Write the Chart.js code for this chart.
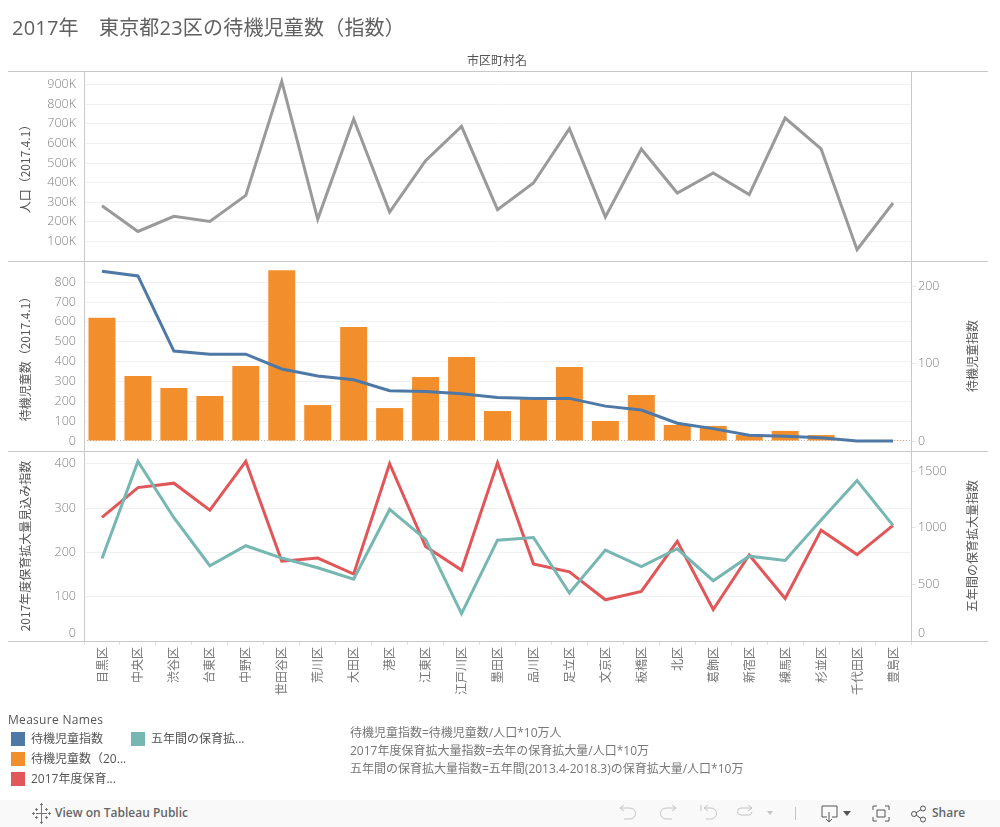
<!DOCTYPE html>
<html lang="ja">
<head>
<meta charset="utf-8">
<title>2017年 東京都23区の待機児童数（指数）</title>
<script src="https://cdn.jsdelivr.net/npm/chart.js@4/dist/chart.umd.min.js"></script>
<style>
html,body{margin:0;padding:0;background:#fff;width:1000px;height:827px;overflow:hidden}
body{font-family:"Open Sans","Noto Sans CJK JP",sans-serif;position:relative}
canvas{position:absolute;left:0;top:0}
.t{position:absolute;white-space:nowrap;line-height:16px}
#title{left:12px;top:14px;font-size:20px;line-height:28px;color:#606060;font-weight:400;letter-spacing:.2px}
#head{left:467px;top:53px;font-size:12px;color:#555}
.lg{font-size:12px;color:#555}
.sw{position:absolute;width:14px;height:14px}
.note{font-size:12px;color:#777;left:350px}
#foot{position:absolute;left:0;top:800px;width:1000px;height:27px;background:#f9f9f9}
#foot svg{position:absolute;left:0;top:0}
</style>
</head>
<body>
<canvas id="c" width="1000" height="827"></canvas>
<div class="t" id="title">2017年　東京都23区の待機児童数（指数）</div>
<div class="t" id="head">市区町村名</div>
<div class="t lg" style="left:8px;top:712px;letter-spacing:.3px">Measure Names</div>
<div class="sw" style="left:11px;top:732px;background:#4e79a7"></div>
<div class="t lg" style="left:31px;top:731px">待機児童指数</div>
<div class="sw" style="left:11px;top:752px;background:#f28e2b"></div>
<div class="t lg" style="left:31px;top:751px">待機児童数（20...</div>
<div class="sw" style="left:11px;top:772px;background:#e15759"></div>
<div class="t lg" style="left:31px;top:771px">2017年度保育...</div>
<div class="sw" style="left:131px;top:732px;background:#76b7b2"></div>
<div class="t lg" style="left:151px;top:731px">五年間の保育拡...</div>
<div class="t note" style="top:725px">待機児童指数=待機児童数/人口*10万人</div>
<div class="t note" style="top:743px">2017年度保育拡大量指数=去年の保育拡大量/人口*10万</div>
<div class="t note" style="top:761px">五年間の保育拡大量指数=五年間(2013.4-2018.3)の保育拡大量/人口*10万</div>
<div id="foot">
<svg width="1000" height="27" fill="none" stroke="#c4c4c4" stroke-width="1">
<g stroke="#777"><path d="M41.500 6v5M41.500 16v5M36 13.500h3M44 13.500h3M41.500 11v5M39 13.500h5"/><path d="M36.500 8v3M35 9.500h3M46.500 8v3M45 9.500h3M36.500 16v3M35 17.500h3M46.500 16v3M45 17.500h3M33.500 12v3M32 13.500h3M49.500 12v3M48 13.500h3M41.500 3v3M40 4.500h3M41.500 21v3M40 22.500h3"/></g>
<path d="M624 5l-4 3 4 3M620 8h10a5 5 0 0 1 0 11h-6"/>
<path d="M672 5l4 3-4 3M676 8h-10a5 5 0 0 0 0 11h6"/>
<path d="M701 5v6M708 5l-4 3 4 3M704 8h7a5 5 0 0 1 0 11h-5"/>
<path d="M748 5l4 3-4 3M752 8h-11a3.500 3.500 0 0 0 0 7h8a3.500 3.500 0 0 0 3-3"/>
<path d="M767 11h6l-3 4z" fill="#c4c4c4" stroke="none"/>
<path d="M795.500 7v13"/>
<g stroke="#555"><path d="M827 17h-5V6h15v11h-5M829 12v10M826 19l3 3 3-3"/><path d="M843 11h8l-4 5z" fill="#555" stroke="none"/>
<path d="M873 10V6h4M885 6h4v4M889 17v4h-4M877 21h-4v-4M877 10h8v7h-8z"/>
<circle cx="914" cy="14" r="2.500"/><circle cx="923" cy="8.500" r="2.500"/><circle cx="923" cy="19.500" r="2.500"/><path d="M916 13l5-3.500M916 15l5 3.500"/></g>
</svg>
<div class="t" style="left:55px;top:5px;font-size:12px;font-weight:600;color:#666">View on Tableau Public</div>
<div class="t" style="left:932px;top:5px;font-size:12px;font-weight:600;color:#666">Share</div>
</div>
<script>
const categories = ["目黒区","中央区","渋谷区","台東区","中野区","世田谷区","荒川区","大田区","港区","江東区","江戸川区","墨田区","品川区","足立区","文京区","板橋区","北区","葛飾区","新宿区","練馬区","杉並区","千代田区","豊島区"];
const population = [282000,151000,228000,202000,335000,917000,214000,725000,250000,512000,687000,262000,398000,676000,225000,572000,347000,449000,339000,730000,572000,58000,296000];
const waitingChildren = [621,327,267,227,378,861,181,575,166,323,423,151,210,373,101,232,81,76,30,51,30,1.5,1.5];
const waitingIndex = [219,213,116,112,112,93,84,79,65,64,61,56,55,55,45,40,23,16,7.4,6,4.3,0,0];
const expansion2017Index = [279,346,356,295,405,180,187,151,400,213,160,402,174,156,93,112,225,71,194,96,250,195,261];
const expansionFiveYearIndex = [729,1585,1088,664,841,732,647,546,1161,897,241,890,914,423,802,656,814,532,749,711,1067,1417,1020];

const populationTicks = [100000,200000,300000,400000,500000,600000,700000,800000,900000];
const waitingTicks = [0,100,200,300,400,500,600,700,800];
const waitingIndexTicks = [0,100,200];
const expansion2017Ticks = [0,100,200,300,400];
const expansionFiveYearTicks = [0,500,1000,1500];

const FAMILY = '"Open Sans","Noto Sans CJK JP",sans-serif';
const CJK = '"Noto Sans CJK JP",sans-serif';
const AXIS = '#c8c8c8', GRID = '#f0f0f0', TICK = '#808080';

const numFont = {family: FAMILY, size: 12.5, weight: 300};
const zeroShiftFont = ctx => Object.assign({}, numFont, {lineHeight: ctx.tick && ctx.tick.value === 0 ? '15px' : 1.2});
const setTicks = list => s => { s.ticks = list.map(value => ({value})); };
const axisTitle = text => ({display: true, text, color: '#555', padding: {top: 10, bottom: 0}, font: {family: CJK, size: 12}});

function leftAxis(opts) {
  return Object.assign({
    position: 'left', stack: 'left', stackWeight: 1,
    afterFit: s => { s.width = 76; },
    border: {display: true, color: AXIS, dash: ctx => ctx.tick && ctx.tick.value === 0 && opts.dotZero ? [1, 2] : []},
    grid: {
      drawTicks: false,
      color: ctx => ctx.tick.value === 0 ? (opts.dotZero ? '#b4b4b4' : 'rgba(0,0,0,0)') : GRID
    }
  }, opts);
}
function rightAxis(opts) {
  return Object.assign({
    position: 'right', stack: 'right', stackWeight: 1,
    afterFit: s => { s.width = 77; },
    border: {display: true, color: AXIS},
    grid: {drawOnChartArea: false, drawTicks: true, tickLength: 5, tickColor: '#e6e6e6'}
  }, opts);
}

const panelLines = {
  id: 'panelLines',
  afterDraw(chart) {
    const {ctx, scales} = chart;
    const ys = [scales.pop.top, scales.wait.top, scales.exp.top, scales.exp.bottom];
    ctx.save();
    ctx.strokeStyle = AXIS;
    ctx.lineWidth = 1;
    ys.forEach(y => {
      const p = Math.round(y) + 0.5;
      ctx.beginPath();
      ctx.moveTo(8, p);
      ctx.lineTo(988, p);
      ctx.stroke();
    });
    // right-hand axis titles read bottom-to-top in the reference
    [['waitIdx', '待機児童指数'], ['expIdx', '五年間の保育拡大量指数']].forEach(([id, text]) => {
      const s = scales[id];
      ctx.save();
      ctx.translate(972, (s.top + s.bottom) / 2);
      ctx.rotate(-Math.PI / 2);
      ctx.textAlign = 'center';
      ctx.textBaseline = 'middle';
      ctx.fillStyle = '#555';
      ctx.font = '12px ' + CJK;
      ctx.fillText(text, 0, 0);
      ctx.restore();
    });
    ctx.restore();
  }
};

const lineStyle = {type: 'line', xAxisID: 'x', borderWidth: 3, pointRadius: 0, tension: 0, borderJoinStyle: 'miter', clip: false, fill: false};
const tickBase = {includeBounds: false, autoSkip: false, color: TICK};

new Chart(document.getElementById('c'), {
  type: 'bar',
  plugins: [panelLines],
  data: {
    labels: categories,
    datasets: [
      Object.assign({}, lineStyle, {label: '人口（2017.4.1）', data: population, yAxisID: 'pop', borderColor: '#9a9a9a', order: 1}),
      Object.assign({}, lineStyle, {label: '待機児童指数', data: waitingIndex, yAxisID: 'waitIdx', borderColor: '#4e79a7', order: 1}),
      {type: 'bar', label: '待機児童数（2017.4.1）', data: waitingChildren, xAxisID: 'x', yAxisID: 'wait', backgroundColor: '#f28e2b', barPercentage: 0.75, categoryPercentage: 1, order: 5},
      Object.assign({}, lineStyle, {label: '2017年度保育拡大量見込み指数', data: expansion2017Index, yAxisID: 'exp', borderColor: '#e15759', order: 3}),
      Object.assign({}, lineStyle, {label: '五年間の保育拡大量指数', data: expansionFiveYearIndex, yAxisID: 'expIdx', borderColor: '#76b7b2', order: 2})
    ]
  },
  options: {
    responsive: false,
    animation: false,
    events: [],
    layout: {padding: {left: 8, right: 12, top: 71, bottom: 127}},
    plugins: {legend: {display: false}, tooltip: {enabled: false}, title: {display: false}},
    scales: {
      x: {
        type: 'category', position: 'bottom', offset: true,
        afterFit: s => { s.height = 59; },
        border: {display: false},
        grid: {offset: true, drawOnChartArea: false, drawTicks: true, tickLength: 4, tickColor: '#e0e0e0'},
        ticks: {color: '#777', font: {family: CJK, size: 12}, minRotation: 90, maxRotation: 90, autoSkip: false, padding: 2}
      },
      pop: leftAxis({
        weight: 3, min: 0, max: 970000, afterBuildTicks: setTicks(populationTicks),
        title: axisTitle('人口（2017.4.1）'),
        ticks: Object.assign({}, tickBase, {padding: 8, font: numFont, callback: v => (v / 1000) + 'K'})
      }),
      wait: leftAxis({
        weight: 2, min: -50.4, max: 907, dotZero: true, afterBuildTicks: setTicks(waitingTicks),
        title: axisTitle('待機児童数（2017.4.1）'),
        ticks: Object.assign({}, tickBase, {padding: 8, font: numFont, callback: v => String(v)})
      }),
      exp: leftAxis({
        weight: 1, min: 0, max: 428.6, afterBuildTicks: setTicks(expansion2017Ticks),
        title: axisTitle('2017年度保育拡大量見込み指数'),
        ticks: Object.assign({}, tickBase, {padding: 8, font: zeroShiftFont, callback: v => v === 0 ? ['0', ''] : String(v)})
      }),
      popR: rightAxis({
        weight: 1, min: 0, max: 1,
        grid: {drawOnChartArea: false, drawTicks: false},
        ticks: {display: false}
      }),
      waitIdx: rightAxis({
        weight: 2, min: -12.9, max: 232.3, afterBuildTicks: setTicks(waitingIndexTicks),
        ticks: Object.assign({}, tickBase, {padding: 2, font: numFont, callback: v => String(v)})
      }),
      expIdx: rightAxis({
        weight: 3, min: 0, max: 1677, afterBuildTicks: setTicks(expansionFiveYearTicks),
        ticks: Object.assign({}, tickBase, {padding: 2, font: zeroShiftFont, callback: v => v === 0 ? ['0', ''] : String(v)})
      })
    }
  }
});
</script>
</body>
</html>
